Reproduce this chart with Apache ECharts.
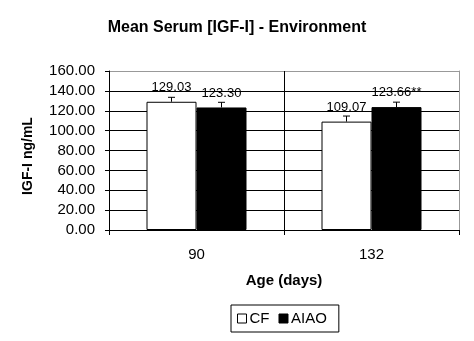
<!DOCTYPE html>
<html><head><meta charset="utf-8">
<script src="https://cdn.jsdelivr.net/npm/echarts@6/dist/echarts.min.js"></script>
<style>html,body{margin:0;padding:0;background:#fff}#c{width:474px;height:341px}</style>
</head><body><div id="c"></div>
<script>
var categories = ['90', '132'];
var seriesNames = ['CF', 'AIAO'];
var cfValues = [129.03, 109.07];
var aiaoValues = [123.30, 123.66];
var cfErrors = [4.5, 5.6];
var aiaoErrors = [5.2, 5.0];
var cfMarks = ['', ''];
var aiaoMarks = ['', '**'];
var yTicks = [0, 20, 40, 60, 80, 100, 120, 140, 160];

var FONT = '"Liberation Sans", Arial, sans-serif';
var BAR_W = 50;

function errSeries(name, vals, errs, offset) {
  return {
    type: 'custom', name: name + ' err', z: 5, silent: true,
    data: vals.map(function (v, i) { return [i, v, errs[i]]; }),
    renderItem: function (params, api) {
      var i = api.value(0), v = api.value(1), e = api.value(2);
      var p0 = api.coord([i, v]);
      var p1 = api.coord([i, v + e]);
      var x = p0[0] + offset;
      var st = { stroke: '#000', lineWidth: 1 };
      return { type: 'group', children: [
        { type: 'line', shape: { x1: x, y1: p0[1], x2: x, y2: p1[1] }, style: st },
        { type: 'line', shape: { x1: x - 3.5, y1: p1[1], x2: x + 3.5, y2: p1[1] }, style: st }
      ]};
    }
  };
}

function barSeries(name, vals, marks, color) {
  return {
    type: 'bar', name: name, barWidth: BAR_W, barGap: '0%', z: 3,
    data: vals,
    itemStyle: { color: color, borderColor: '#000', borderWidth: 1 },
    label: {
      show: true, position: 'top', distance: 8, color: '#000',
      fontFamily: FONT, fontSize: 13,
      formatter: function (p) { return p.value.toFixed(2) + marks[p.dataIndex]; }
    }
  };
}

var chart = echarts.init(document.getElementById('c'), null, { renderer: 'canvas' });
chart.setOption({
  animation: false,
  backgroundColor: '#fff',
  textStyle: { fontFamily: FONT },
  title: {
    text: 'Mean Serum [IGF-I] - Environment', left: 'center', top: 15,
    textStyle: { fontFamily: FONT, fontSize: 16, fontWeight: 'bold', color: '#000' }
  },
  legend: {
    data: seriesNames, left: 231, top: 305, icon: 'rect',
    itemWidth: 9, itemHeight: 9, itemGap: 9,
    padding: [6, 12, 6, 6], borderColor: '#000', borderWidth: 1,
    itemStyle: { borderColor: '#000', borderWidth: 1 },
    textStyle: { fontFamily: FONT, fontSize: 15, color: '#000', padding: [0, 0, 0, -2] }
  },
  grid: { left: 109, right: 15, top: 71, bottom: 111, containLabel: false },
  xAxis: {
    type: 'category', data: categories,
    name: 'Age (days)', nameLocation: 'middle', nameGap: 43,
    nameTextStyle: { fontFamily: FONT, fontSize: 15, fontWeight: 'bold', color: '#000' },
    axisLine: { lineStyle: { color: '#000', width: 1 } },
    axisTick: { show: true, length: 5, lineStyle: { color: '#000' } },
    axisLabel: { fontFamily: FONT, fontSize: 15, color: '#000', margin: 17 },
    splitLine: { show: true, lineStyle: { color: ['#000', '#000', '#999'], width: 1 } }
  },
  yAxis: [{
    type: 'value', min: 0, max: 160, interval: 20,
    axisLine: { show: true, lineStyle: { color: '#000', width: 1 } },
    axisTick: { show: true, length: 4, lineStyle: { color: '#000' } },
    axisLabel: { fontFamily: FONT, fontSize: 15, color: '#000', margin: 14,
      formatter: function (v) { return yTicks.indexOf(v) >= 0 ? v.toFixed(2) : ''; } },
    splitLine: { show: true, lineStyle: { color: ['#000', '#000', '#000', '#000', '#000', '#000', '#000', '#000', '#999'], width: 1 } }
  }, {
    type: 'value', min: 0, max: 160, interval: 20, position: 'right',
    axisLine: { show: true, lineStyle: { color: '#999', width: 1, type: 'dotted' } },
    axisTick: { show: false }, axisLabel: { show: false }, splitLine: { show: false }
  }],
  graphic: [{
    type: 'text', x: 28, y: 156, rotation: Math.PI / 2,
    style: { text: 'IGF-I ng/mL', fontFamily: FONT, fontSize: 14, fontWeight: 'bold',
      fill: '#000', align: 'center', verticalAlign: 'middle' }
  }],
  series: [
    barSeries(seriesNames[0], cfValues, cfMarks, '#fff'),
    barSeries(seriesNames[1], aiaoValues, aiaoMarks, '#000'),
    errSeries(seriesNames[0], cfValues, cfErrors, -BAR_W / 2),
    errSeries(seriesNames[1], aiaoValues, aiaoErrors, BAR_W / 2)
  ]
});
</script></body></html>
